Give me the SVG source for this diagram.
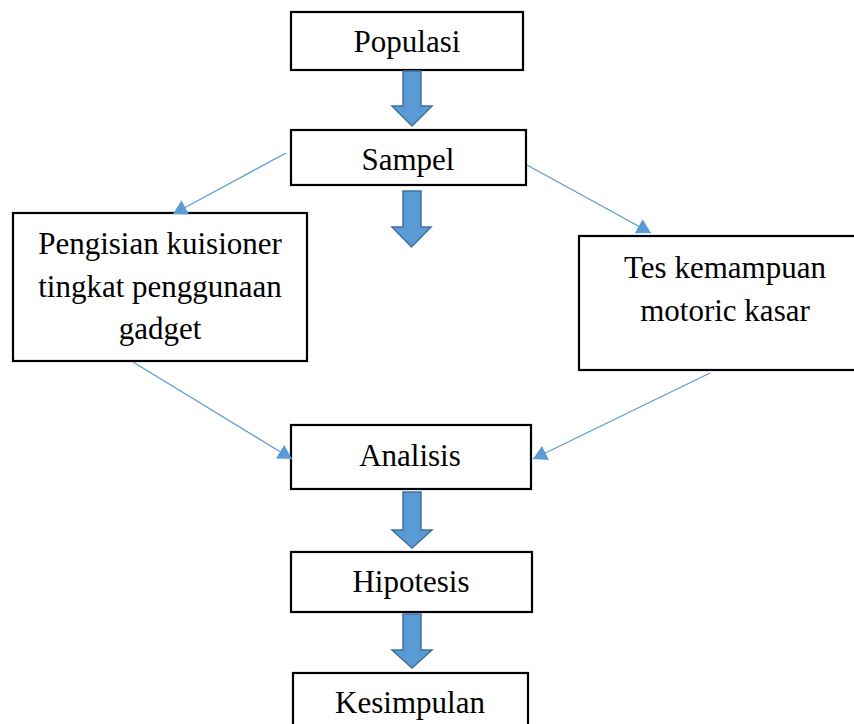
<svg xmlns="http://www.w3.org/2000/svg" width="854" height="724" viewBox="0 0 854 724">
<style>
.box{fill:#fff;stroke:#000;stroke-width:2.2}
.t{font-family:'Liberation Serif', 'DejaVu Serif', serif;font-size:31px;fill:#000;text-anchor:middle}
.blk{fill:#5B9BD5;stroke:#41719C;stroke-width:1.5}
.ln{fill:none;stroke:#5B9BD5;stroke-width:1.3}
</style>
<defs>
<marker id="ah" markerUnits="userSpaceOnUse" markerWidth="18" markerHeight="18" refX="14" refY="8" orient="auto">
<path d="M0,0 L14,8 L0,16 Z" fill="#5B9BD5"/>
</marker>
</defs>
<rect width="854" height="724" fill="#fff"/>
<g id="populasi"><rect class="box" x="291" y="12" width="232" height="58"/><text class="t" x="407" y="52">Populasi</text></g>
<g id="sampel"><rect class="box" x="291" y="130" width="235" height="55"/><text class="t" x="408" y="170">Sampel</text></g>
<g id="kuisioner"><rect class="box" x="13" y="213" width="294" height="148"/><text class="t" x="160" y="254">Pengisian kuisioner</text><text class="t" x="160" y="297">tingkat penggunaan</text><text class="t" x="160" y="339">gadget</text></g>
<g id="tes"><rect class="box" x="579" y="236" width="292" height="134"/><text class="t" x="725" y="278">Tes kemampuan</text><text class="t" x="725" y="321">motoric kasar</text></g>
<g id="analisis"><rect class="box" x="291" y="425" width="240" height="64"/><text class="t" x="410" y="466">Analisis</text></g>
<g id="hipotesis"><rect class="box" x="291" y="552" width="241" height="60"/><text class="t" x="411" y="592">Hipotesis</text></g>
<g id="kesimpulan"><rect class="box" x="293" y="673" width="235" height="70"/><text class="t" x="410" y="713">Kesimpulan</text></g>
<g id="connectors">
<path class="blk" d="M403,71 L421,71 L421,106 L432,106 L412,126 L392,106 L403,106 Z"/>
<path class="blk" d="M403,191 L421,191 L421,227 L431,227 L411.5,247 L392,227 L403,227 Z"/>
<path class="blk" d="M403,492 L421,492 L421,530 L432,530 L412,548 L392,530 L403,530 Z"/>
<path class="blk" d="M403,614 L421,614 L421,650 L432,650 L412,668 L392,650 L403,650 Z"/>
<line class="ln" x1="286" y1="153" x2="173" y2="214" marker-end="url(#ah)"/>
<line class="ln" x1="527" y1="165" x2="651" y2="233" marker-end="url(#ah)"/>
<line class="ln" x1="133" y1="362" x2="292" y2="459" marker-end="url(#ah)"/>
<line class="ln" x1="710" y1="373" x2="533" y2="459" marker-end="url(#ah)"/>
</g>
</svg>
